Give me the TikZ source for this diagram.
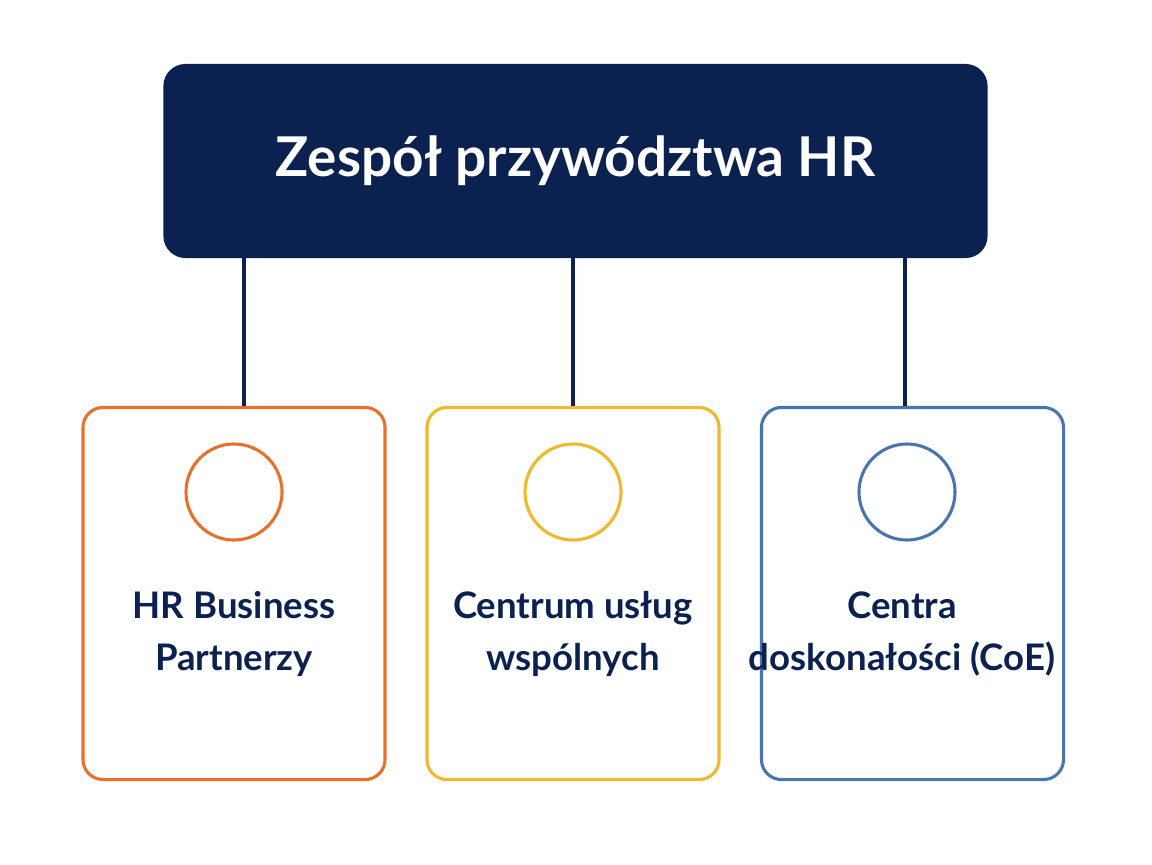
\documentclass[tikz,border=0pt]{standalone}
\usepackage{fontspec}
\setmainfont{Lato}
\usetikzlibrary{positioning}
\definecolor{navy}{HTML}{0B2150}
\definecolor{hrorange}{HTML}{E8702A}
\definecolor{hryellow}{HTML}{F0B82A}
\definecolor{hrblue}{HTML}{4A74B0}
\tikzset{
  unit/.style={draw=#1, line width=2.2pt, rounded corners=0.5cm,
    minimum width=7.55cm, minimum height=9.3cm, inner sep=0pt},
  mark/.style={draw=#1, line width=2.2pt, circle, minimum size=2.4cm},
  label/.style={text=navy, font=\fontsize{26}{37}\selectfont\bfseries, align=center}
}
\begin{document}
\begin{tikzpicture}[x=0.025cm, y=-0.025cm]
        \useasboundingbox (0,0) rectangle (1152,864);
        \node[fill=navy, rounded corners=0.55cm, minimum width=20.6cm, minimum height=4.85cm,
              text=white, font=\fontsize{39}{45}\selectfont\bfseries] (lead) at (575.5,161) {Zespół przywództwa HR};
        % three units
        \node[unit=hrorange] (hrbp) at (234,593.5) {};
        \node[unit=hryellow, minimum width=7.3cm] (csc) at (573,593.5) {};
        \node[unit=hrblue] (coe) at (912.5,593.5) {};
        \node[mark=hrorange] (hrbpicon) at (234,492) {};
        \node[mark=hryellow] (cscicon) at (573,492) {};
        \node[mark=hrblue] (coeicon) at (907,492) {};
        \node[label] at (234,634) {HR Business\\Partnerzy};
        \node[label] at (573,634) {Centrum usług\\wspólnych};
        \node[label] at (902,634) {Centra\\doskonałości (CoE)};
        \draw[navy, line width=2.2pt] (lead.south -| 244,0) -- (hrbp.north -| 244,0);
        \draw[navy, line width=2.2pt] (lead.south -| csc.north) -- (csc.north);
        \draw[navy, line width=2.2pt] (lead.south -| 905,0) -- (coe.north -| 905,0);
    \end{tikzpicture}
\end{document}
